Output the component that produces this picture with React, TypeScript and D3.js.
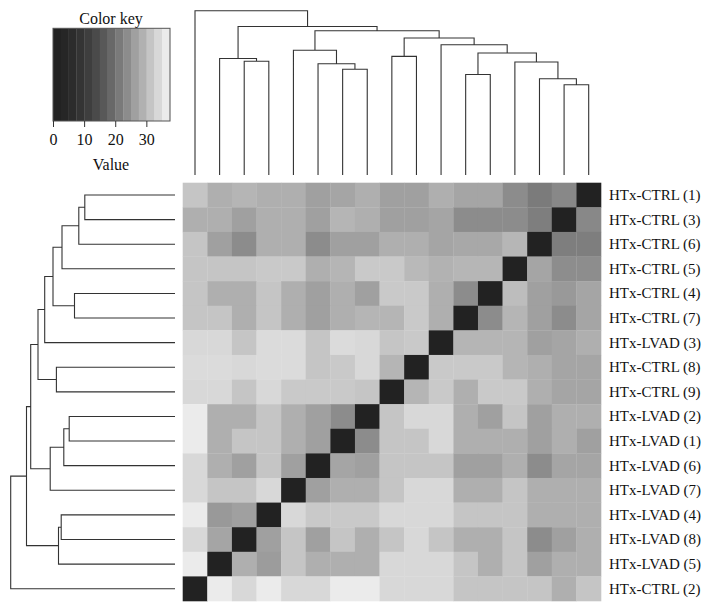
import * as d3 from 'd3';
import { useEffect, useRef } from 'react';

// row order of the heatmap (top to bottom); columns show the same samples reversed
const rowLabels = [
  'HTx-CTRL (1)',
  'HTx-CTRL (3)',
  'HTx-CTRL (6)',
  'HTx-CTRL (5)',
  'HTx-CTRL (4)',
  'HTx-CTRL (7)',
  'HTx-LVAD (3)',
  'HTx-CTRL (8)',
  'HTx-CTRL (9)',
  'HTx-LVAD (2)',
  'HTx-LVAD (1)',
  'HTx-LVAD (6)',
  'HTx-LVAD (7)',
  'HTx-LVAD (4)',
  'HTx-LVAD (8)',
  'HTx-LVAD (5)',
  'HTx-CTRL (2)',
];

// distance values, one array per row, in displayed column order
const values: number[][] = [
  [31.3, 28.6, 29.3, 28.6, 28.6, 26.3, 27, 28.6, 26.3, 26.3, 28.6, 27, 27, 23.8, 21.5, 23.2, 0],
  [28.6, 28.6, 26.3, 28.6, 28.6, 26.3, 29.3, 28.6, 26.3, 26.3, 27, 23.8, 23.8, 23.8, 21.8, 0, 23.2],
  [31.3, 26.3, 23.8, 28.6, 28.6, 23.8, 26.3, 26.3, 28.6, 28.6, 27, 27.5, 27.5, 29.5, 0, 21.8, 21.8],
  [31.3, 31.3, 31.3, 31.8, 31.8, 28.6, 29.3, 31.8, 31.8, 29.8, 28.9, 29.5, 29.5, 0, 27, 24, 24],
  [31.3, 28.6, 28.6, 31.3, 28.6, 26.3, 28.6, 26.3, 31.8, 31.8, 28.6, 23.8, 0, 30.3, 26.3, 25.5, 27],
  [31.3, 31.3, 28.6, 31.3, 28.6, 26.3, 28.6, 29.3, 29.3, 31.8, 28.6, 0, 23.8, 29.3, 26.3, 23.8, 27],
  [33.8, 33.8, 31.3, 34.3, 34.3, 31.3, 34.3, 33.8, 31.3, 31.8, 0, 29.3, 29.3, 29.3, 26.3, 27, 28.6],
  [34.3, 34.3, 33.8, 34.3, 34.3, 31.3, 31.8, 33.8, 29.3, 0, 31.8, 31.8, 31.8, 29.3, 28.6, 27, 27],
  [33.8, 33.8, 31.3, 33.8, 31.8, 31.8, 31.8, 31.3, 0, 29.3, 31.8, 28.6, 31.8, 31.8, 28.6, 27, 27],
  [36.3, 28.6, 28.6, 31.3, 28.6, 26.3, 23.8, 0, 31.3, 33.8, 33.8, 28.6, 26.3, 31.3, 26.3, 28.6, 28.6],
  [36.3, 28.6, 31.3, 31.3, 28.6, 26.3, 0, 23.8, 31.3, 31.3, 33.8, 28.6, 28.6, 28.6, 26.3, 28.6, 26.3],
  [33.8, 28.6, 26.3, 31.3, 26.3, 0, 27, 26.3, 31.3, 31.3, 31.3, 26.3, 26.3, 28.6, 23.8, 27, 27],
  [33.8, 31.3, 31.3, 33.8, 0, 26.3, 28.6, 28.6, 31.3, 33.8, 33.8, 28.6, 28.6, 31.3, 28.6, 28.6, 28.6],
  [36.3, 25.5, 26.3, 0, 33.8, 31.8, 31.8, 31.8, 33.8, 33.8, 33.8, 31.3, 31.3, 31.3, 28.6, 28.6, 28.6],
  [33.8, 27, 0, 26.3, 31.3, 26.3, 31.3, 28.6, 31.3, 33.8, 31.3, 28.6, 28.6, 31.3, 23.8, 26.3, 28.6],
  [36.3, 0, 28.6, 25.8, 31.3, 28.6, 28.6, 28.6, 33.8, 33.8, 33.8, 31.3, 28.6, 31.3, 26.3, 28.6, 28.6],
  [0, 36.3, 33.8, 36.3, 33.8, 33.8, 36.3, 36.3, 33.8, 33.8, 33.8, 31.3, 31.3, 31.3, 31.3, 28.6, 31.3],
];

// hclust-style merges: negative = row label (1-based), positive = earlier merge step
const merges: [number, number][] = [
  [-1, -2],
  [1, -3],
  [-5, -6],
  [-10, -11],
  [4, -12],
  [2, -4],
  [-14, -15],
  [7, -16],
  [-8, -9],
  [6, 3],
  [5, -13],
  [10, -7],
  [12, 9],
  [13, 11],
  [14, 8],
  [15, -17],
];
const mergeHeights = [
  90.2, 96.2, 100.5, 105.8, 111.2, 113, 113.8, 116.5, 118.6, 122, 124.8, 130.3, 137, 144.3, 148.5, 164.3,
];

const keyPalette = [
  '#222222', '#262626', '#2c2c2c', '#343434', '#3e3e3e', '#4a4a4a', '#585858', '#686868',
  '#7a7a7a', '#8c8c8c', '#a0a0a0', '#b1b1b1', '#c5c5c5', '#d8d8d8', '#ebebeb',
];
const keyTicks = [0, 10, 20, 30];
const valueMax = 37.6;

const FONT = '"Liberation Serif", "Times New Roman", serif';

const App = () => {
  const ref = useRef<HTMLDivElement>(null);

  useEffect(() => {
    const n = rowLabels.length;
    const hmLeft = 182.7;
    const hmTop = 182.7;
    const hmSize = 418.3;
    const refref = ref.current;

    const svg = d3
      .select(refref)
      .append('svg')
      .attr('width', 718)
      .attr('height', 611)
      .style('position', 'absolute')
      .style('left', '0px')
      .style('top', '0px')
      .style('background', '#fff');

    const x = d3.scaleBand<number>().domain(d3.range(n)).range([hmLeft, hmLeft + hmSize]);
    const y = d3.scaleBand<number>().domain(d3.range(n)).range([hmTop, hmTop + hmSize]);
    const bw = x.bandwidth();

    const step = valueMax / keyPalette.length;
    const color = d3
      .scaleLinear<string>()
      .domain(keyPalette.map((_, i) => (i + 0.5) * step))
      .range(keyPalette)
      .clamp(true);

    //heatmap cells
    svg
      .append('g')
      .selectAll('g')
      .data(values)
      .join('g')
      .attr('transform', (_d, i) => `translate(0,${y(i)})`)
      .selectAll('rect')
      .data((row) => row)
      .join('rect')
      .attr('x', (_d, j) => x(j) ?? 0)
      .attr('width', bw + 0.3)
      .attr('height', bw + 0.3)
      .attr('fill', (d) => color(d));

    //row labels
    svg
      .append('g')
      .selectAll('text')
      .data(rowLabels)
      .join('text')
      .attr('x', 609)
      .attr('y', (_d, i) => (y(i) ?? 0) + bw / 2)
      .attr('dy', '0.33em')
      .style('font-family', FONT)
      .style('font-size', '15px')
      .style('fill', '#111')
      .text((d) => d);

    //dendrogram layout: leaf index positions + merge heights
    const nodePos: number[] = [];
    const posOf = (id: number) => (id < 0 ? -id - 1 : nodePos[id - 1]);
    const hOf = (id: number) => (id < 0 ? 0 : mergeHeights[id - 1]);
    merges.forEach(([a, b]) => nodePos.push((posOf(a) + posOf(b)) / 2));

    const hScale = d3.scaleLinear().domain([0, 164.3]).range([175, 10.7]);
    const rowCenter = d3.scaleLinear().domain([0, n - 1]).range([hmTop + bw / 2, hmTop + hmSize - bw / 2]);
    // columns are the rows in reverse order
    const colCenter = d3.scaleLinear().domain([0, n - 1]).range([hmLeft + hmSize - bw / 2, hmLeft + bw / 2]);

    const leftPath = d3.path();
    const topPath = d3.path();
    merges.forEach(([a, b], k) => {
      const h = mergeHeights[k];
      const pa = posOf(a);
      const pb = posOf(b);
      // left (rows)
      leftPath.moveTo(hScale(hOf(a)), rowCenter(pa));
      leftPath.lineTo(hScale(h), rowCenter(pa));
      leftPath.lineTo(hScale(h), rowCenter(pb));
      leftPath.lineTo(hScale(hOf(b)), rowCenter(pb));
      // top (columns)
      topPath.moveTo(colCenter(pa), hScale(hOf(a)));
      topPath.lineTo(colCenter(pa), hScale(h));
      topPath.lineTo(colCenter(pb), hScale(h));
      topPath.lineTo(colCenter(pb), hScale(hOf(b)));
    });

    [leftPath, topPath].forEach((p) =>
      svg
        .append('path')
        .attr('d', p.toString())
        .attr('fill', 'none')
        .attr('stroke', '#333')
        .attr('stroke-width', 1.1),
    );

    //color key
    const kx = d3.scaleLinear().domain([0, valueMax]).range([53, 170]);
    const keyTop = 28.3;
    const keyBottom = 121;
    svg
      .append('g')
      .selectAll('rect')
      .data(keyPalette)
      .join('rect')
      .attr('x', (_d, i) => kx(i * step))
      .attr('y', keyTop)
      .attr('width', kx(step) - kx(0) + 0.3)
      .attr('height', keyBottom - keyTop)
      .attr('fill', (d) => d);

    svg
      .append('rect')
      .attr('x', kx(0))
      .attr('y', keyTop)
      .attr('width', kx(valueMax) - kx(0))
      .attr('height', keyBottom - keyTop)
      .attr('fill', 'none')
      .attr('stroke', '#555')
      .attr('stroke-width', 1);

    svg
      .append('g')
      .attr('transform', `translate(0,${keyBottom})`)
      .call(d3.axisBottom(kx).tickValues(keyTicks).tickSize(6).tickPadding(7))
      .call((g) => {
        g.select('.domain').remove();
        g.selectAll('.tick line').attr('stroke', '#333');
        g.selectAll('.tick text')
          .style('font-family', FONT)
          .style('font-size', '16px')
          .style('fill', '#111');
      });

    svg
      .append('text')
      .attr('x', 111)
      .attr('y', 24)
      .attr('text-anchor', 'middle')
      .style('font-family', FONT)
      .style('font-size', '16px')
      .style('fill', '#111')
      .text('Color key');

    svg
      .append('text')
      .attr('x', 111)
      .attr('y', 170)
      .attr('text-anchor', 'middle')
      .style('font-family', FONT)
      .style('font-size', '16px')
      .style('fill', '#111')
      .text('Value');

    return () => {
      d3.select(refref).selectAll('svg').remove();
    };
  }, []);

  return <div ref={ref} />;
};

export default App;
